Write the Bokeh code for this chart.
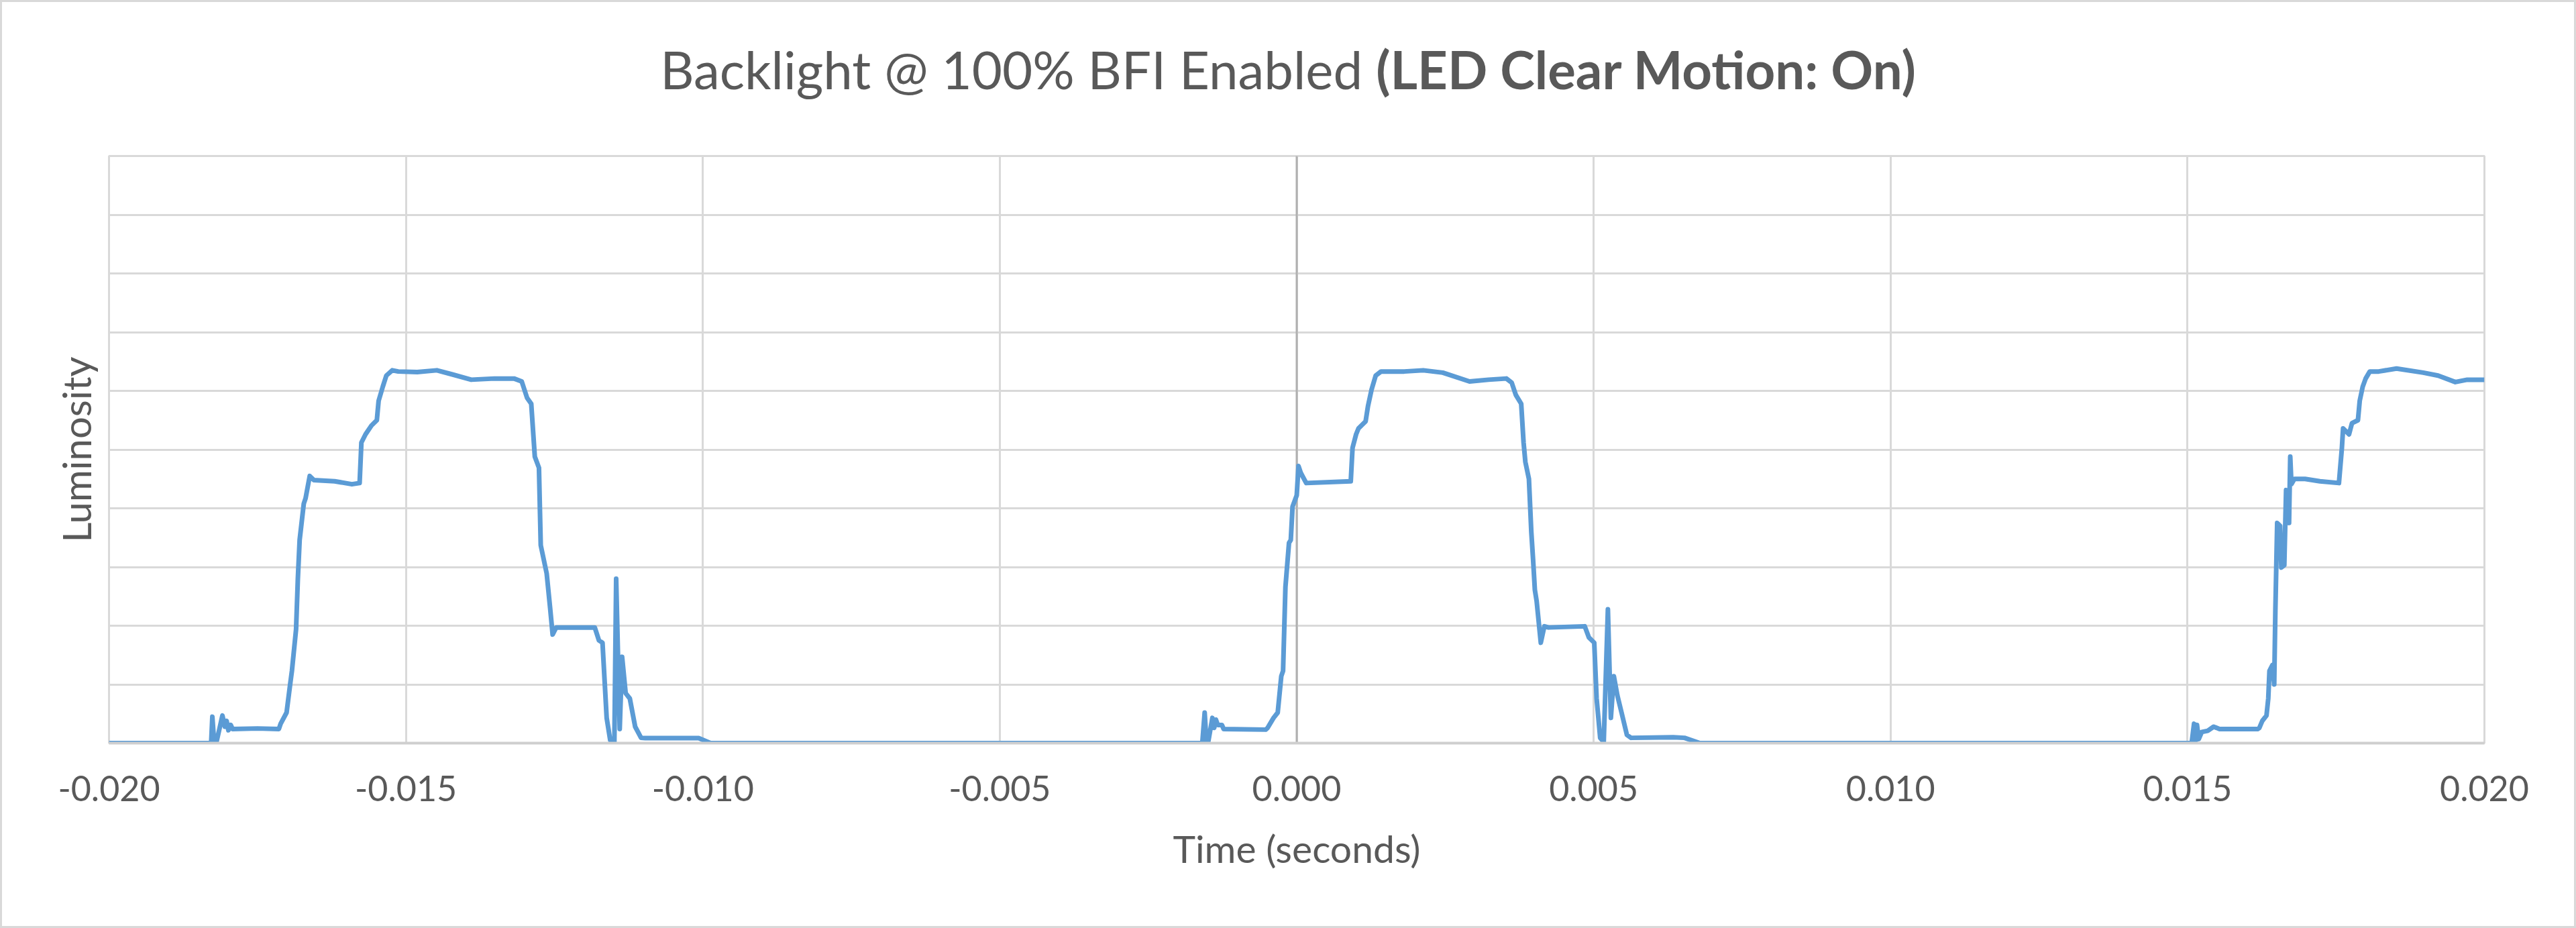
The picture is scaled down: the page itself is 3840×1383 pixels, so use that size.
from bokeh.plotting import figure
from bokeh.models import Range1d, FixedTicker, Span, Div
from bokeh.layouts import column
from bokeh.embed import file_html
from bokeh.resources import INLINE

# ---- data (time in seconds, luminosity in grid units) ----
time_s = [
    -0.02000, -0.01828, -0.01826, -0.01823, -0.01819, -0.01809, -0.01805, -0.01802,
    -0.01799, -0.01795, -0.01792, -0.01750, -0.01714, -0.01711, -0.01701, -0.01695,
    -0.01692, -0.01685, -0.01682, -0.01679, -0.01672, -0.01669, -0.01662, -0.01655,
    -0.01620, -0.01591, -0.01578, -0.01575, -0.01568, -0.01558, -0.01549, -0.01546,
    -0.01539, -0.01533, -0.01523, -0.01513, -0.01481, -0.01448, -0.01422, -0.01390,
    -0.01351, -0.01318, -0.01305, -0.01296, -0.01289, -0.01283, -0.01276, -0.01273,
    -0.01263, -0.01257, -0.01253, -0.01247, -0.01182, -0.01175, -0.01169, -0.01162,
    -0.01156, -0.01149, -0.01146, -0.01140, -0.01136, -0.01130, -0.01123, -0.01114,
    -0.01104, -0.01097, -0.01007, -0.00987,
    -0.00159, -0.00155, -0.00152, -0.00149, -0.00142, -0.00139, -0.00136, -0.00133,
    -0.00126, -0.00123, -0.00052, -0.00049, -0.00039, -0.00032, -0.00026, -0.00023,
    -0.00019, -0.00013, -0.00010, -0.00007, 0.00000, 0.00003, 0.00007, 0.00016,
    0.00091, 0.00094, 0.00100, 0.00104, 0.00116, 0.00120, 0.00126, 0.00133,
    0.00142, 0.00181, 0.00213, 0.00246, 0.00291, 0.00323, 0.00353, 0.00362,
    0.00369, 0.00378, 0.00382, 0.00385, 0.00391, 0.00395, 0.00398, 0.00401,
    0.00404, 0.00411, 0.00417, 0.00424, 0.00485, 0.00492, 0.00501, 0.00505,
    0.00511, 0.00517, 0.00524, 0.00529, 0.00534, 0.00540, 0.00547, 0.00556,
    0.00563, 0.00634, 0.00653, 0.00679,
    0.01507, 0.01511, 0.01514, 0.01516, 0.01519, 0.01524, 0.01534, 0.01544,
    0.01554, 0.01618, 0.01621, 0.01626, 0.01633, 0.01636, 0.01638, 0.01643,
    0.01646, 0.01648, 0.01651, 0.01656, 0.01658, 0.01663, 0.01666, 0.01671,
    0.01673, 0.01675, 0.01680, 0.01698, 0.01723, 0.01755, 0.01760, 0.01762,
    0.01772, 0.01777, 0.01787, 0.01790, 0.01795, 0.01800, 0.01807, 0.01822,
    0.01852, 0.01897, 0.01922, 0.01951, 0.01971, 0.02000,
]
luminosity = [
    0.00, 0.00, 0.45, 0.02, 0.02, 0.47, 0.28, 0.38,
    0.22, 0.31, 0.24, 0.25, 0.24, 0.33, 0.52, 1.00,
    1.23, 1.94, 2.80, 3.46, 4.08, 4.17, 4.55, 4.48,
    4.46, 4.41, 4.43, 5.12, 5.26, 5.41, 5.50, 5.83,
    6.07, 6.26, 6.35, 6.33, 6.32, 6.35, 6.28, 6.19,
    6.21, 6.21, 6.16, 5.88, 5.78, 4.88, 4.69, 3.37,
    2.89, 2.28, 1.85, 1.97, 1.97, 1.75, 1.71, 0.43,
    0.05, 0.02, 2.80, 0.24, 1.47, 0.85, 0.76, 0.28,
    0.09, 0.085, 0.085, 0.00,
    0.00, 0.52, 0.02, 0.02, 0.43, 0.26, 0.40, 0.31,
    0.31, 0.24, 0.23, 0.26, 0.43, 0.52, 1.14, 1.23,
    2.66, 3.41, 3.46, 4.03, 4.22, 4.72, 4.60, 4.43,
    4.46, 5.03, 5.26, 5.36, 5.48, 5.74, 6.02, 6.26,
    6.33, 6.33, 6.35, 6.31, 6.16, 6.19, 6.21, 6.14,
    5.93, 5.78, 5.12, 4.79, 4.50, 3.60, 3.13, 2.61,
    2.42, 1.71, 1.99, 1.97, 1.99, 1.80, 1.71, 0.76,
    0.09, 0.02, 2.28, 0.43, 1.14, 0.81, 0.52, 0.14,
    0.09, 0.10, 0.09, 0.00,
    0.00, 0.33, 0.05, 0.31, 0.07, 0.19, 0.21, 0.28,
    0.24, 0.24, 0.26, 0.38, 0.47, 0.76, 1.23, 1.33,
    1.00, 2.28, 3.75, 3.70, 2.99, 3.03, 4.31, 3.75,
    4.88, 4.41, 4.50, 4.50, 4.46, 4.43, 5.03, 5.36,
    5.26, 5.45, 5.50, 5.83, 6.07, 6.21, 6.33, 6.33,
    6.38, 6.31, 6.26, 6.15, 6.19, 6.19,
]

x_ticks = [-0.020, -0.015, -0.010, -0.005, 0.0, 0.005, 0.010, 0.015, 0.020]
x_tick_labels = ["-0.020", "-0.015", "-0.010", "-0.005", "0.000", "0.005", "0.010", "0.015", "0.020"]
y_ticks = [0, 1, 2, 3, 4, 5, 6, 7, 8, 9, 10]

title_plain = "Backlight @ 100% BFI Enabled"
title_bold = "(LED Clear Motion: On)"
x_title = "Time (seconds)"
y_title = "Luminosity"

FONT = "Lato"
TXT = "#595959"
GRID = "#D9D9D9"

W, H = 3840, 1383
TITLE_H = 150

title_div = Div(
    text=(
        f'<div style="width:{W}px;text-align:center;font-family:Lato;font-size:78px;'
        f'line-height:1;color:{TXT};padding-top:64px;white-space:nowrap;">'
        f'<span>{title_plain}</span> <b>{title_bold}</b></div>'
    ),
    width=W, height=TITLE_H, margin=0,
)

p = figure(
    width=W, height=H - TITLE_H,
    output_backend="svg", toolbar_location=None,
    x_range=Range1d(-0.020, 0.020), y_range=Range1d(0, 10),
    min_border_left=162, min_border_right=137,
    min_border_top=232 - TITLE_H, min_border_bottom=276,
    background_fill_color="white", border_fill_alpha=0,
    margin=0,
)
p.outline_line_color = GRID
p.outline_line_width = 3

# grids
p.xgrid.ticker = FixedTicker(ticks=x_ticks)
p.ygrid.ticker = FixedTicker(ticks=y_ticks)
p.xgrid.grid_line_color = GRID
p.ygrid.grid_line_color = GRID
p.xgrid.grid_line_width = 3
p.ygrid.grid_line_width = 3

# x axis
p.xaxis.ticker = FixedTicker(ticks=x_ticks)
p.xaxis.major_label_overrides = {t: s for t, s in zip(x_ticks, x_tick_labels)}
p.xaxis.major_tick_in = 0
p.xaxis.major_tick_out = 0
p.xaxis.minor_tick_line_color = None
p.xaxis.axis_line_color = "#CFCFCF"
p.xaxis.axis_line_width = 4
p.xaxis.major_label_text_font = FONT
p.xaxis.major_label_text_font_size = "52px"
p.xaxis.major_label_text_color = TXT
p.xaxis.major_label_standoff = 48
p.xaxis.axis_label = x_title
p.xaxis.axis_label_text_font = FONT
p.xaxis.axis_label_text_font_size = "57px"
p.xaxis.axis_label_text_font_style = "normal"
p.xaxis.axis_label_text_color = TXT
p.xaxis.axis_label_standoff = 33

# y axis (no tick labels, as in the reference)
p.yaxis.ticker = FixedTicker(ticks=[])
p.yaxis.major_label_standoff = 0
p.yaxis.major_tick_in = 0
p.yaxis.major_tick_out = 0
p.yaxis.minor_tick_line_color = None
p.yaxis.axis_line_color = None
p.yaxis.axis_label = y_title
p.yaxis.axis_label_text_font = FONT
p.yaxis.axis_label_text_font_size = "58px"
p.yaxis.axis_label_text_font_style = "normal"
p.yaxis.axis_label_text_color = TXT
p.yaxis.axis_label_standoff = 15

# vertical axis line crossing at x = 0
p.add_layout(Span(location=0, dimension="height", line_color="#B0B0B0", line_width=3, level="underlay"))

# data line
p.line(time_s, luminosity, line_color="#5B9BD5", line_width=7, line_join="round")

layout = column(title_div, p, spacing=0,
                styles={"outline": "3px solid #D9D9D9", "outline-offset": "-3px",
                        "background-color": "white"})

open("out.html", "w").write(file_html(layout, INLINE))
